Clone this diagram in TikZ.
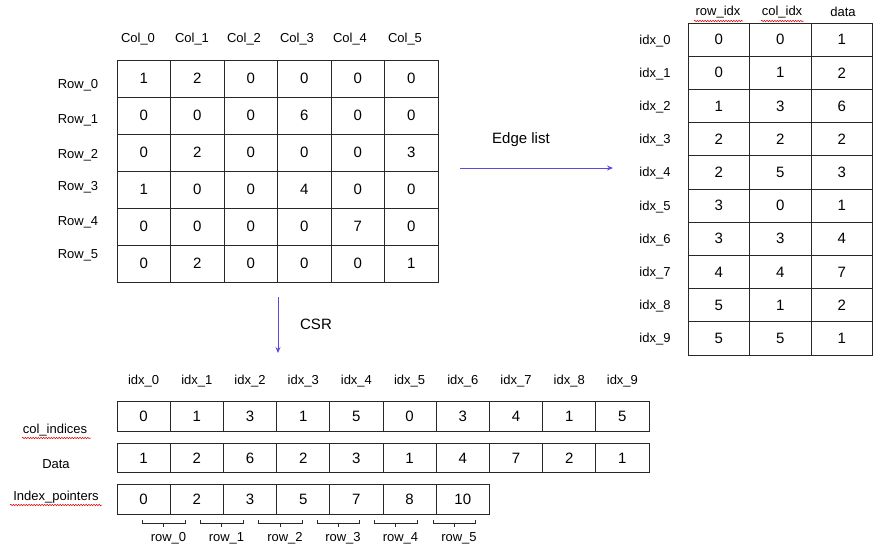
\documentclass[tikz,border=0pt]{standalone}
\usepackage{fontspec}
\setmainfont{Liberation Sans}
\usetikzlibrary{arrows.meta,decorations.pathmorphing}
\definecolor{arrowc}{RGB}{98,68,226}
\definecolor{gridc}{RGB}{40,40,40}
\begin{document}
\begin{tikzpicture}[x=1pt,y=-1pt,
  cellbase/.style={draw=gridc,line width=1pt,inner sep=0pt,font=\fontsize{15}{15}\selectfont},
  mcell/.style={cellbase,minimum width=53.5pt,minimum height=37pt},
  ecell/.style={cellbase,minimum width=61.5pt,minimum height=33.2pt},
  acell/.style={cellbase,minimum width=53.2pt,minimum height=29.5pt},
  lab/.style={font=\fontsize{13}{13}\selectfont,inner sep=0pt},
  biglab/.style={font=\fontsize{15}{15}\selectfont,inner sep=0pt},
  conn/.style={draw=arrowc,line width=0.9pt,-{Stealth[length=6pt,width=5pt]}},
  squiggle/.style={draw=red!85!black,line width=0.5pt,decorate,decoration={snake,amplitude=0.7pt,segment length=2.6pt}},
  bracketline/.style={draw=gridc,line width=0.9pt}]
\useasboundingbox (0,0) rectangle (873,549);

% ---------- dense matrix ----------
\foreach \lx/\txt [count=\c from 0] in {138/Col\_0,192/Col\_1,244/Col\_2,297/Col\_3,350/Col\_4,405/Col\_5}
  \node[lab] (ch\c) at (\lx,39) {\txt};
\foreach \ly [count=\r from 0] in {85,120,155,187,222,255}
  \node[lab] (rh\r) at (78,\ly) {Row\_\r};
\foreach \rowvals [count=\r from 0] in {{1,2,0,0,0,0},{0,0,0,6,0,0},{0,2,0,0,0,3},{1,0,0,4,0,0},{0,0,0,0,7,0},{0,2,0,0,0,1}}
  \foreach \v [count=\c from 0] in \rowvals
    \node[mcell] (m-\r-\c) at ({117+53.5*(\c+0.5)},{60+37*(\r+0.5)}) {\v};

% ---------- edge list ----------
\node[lab] (eh0) at (718,12) {row\_idx};
\node[lab] (eh1) at (782,12) {col\_idx};
\node[lab] (eh2) at (843,12) {data};
\draw[squiggle] (694,21) -- (743,21);
\draw[squiggle] (761,21) -- (804,21);
\foreach \a/\b/\d [count=\r from 0] in {0/0/1,0/1/2,1/3/6,2/2/2,2/5/3,3/0/1,3/3/4,4/4/7,5/1/2,5/5/1}{
  \node[lab] (ei\r) at (655,{23+33.2*(\r+0.5)+1}) {idx\_\r};
  \node[ecell] (e-\r-0) at ({688+61.5*0.5},{23+33.2*(\r+0.5)}) {\a};
  \node[ecell] (e-\r-1) at ({688+61.5*1.5},{23+33.2*(\r+0.5)}) {\b};
  \node[ecell] (e-\r-2) at ({688+61.5*2.5},{23+33.2*(\r+0.5)}) {\d};
}

% ---------- arrows ----------
\coordinate (elS) at (460,168);
\coordinate (elE) at (613,168);
\draw[conn] (elS) -- (elE);
\node[biglab] (ellab) at (521,140) {Edge list};
\coordinate (csS) at (278,297);
\coordinate (csE) at (278,353);
\draw[conn] (csS) -- (csE);
\node[biglab] (cslab) at (316,324) {CSR};

% ---------- CSR arrays ----------
\foreach \i in {0,...,9}
  \node[lab] (ai\i) at ({117+53.2*(\i+0.5)},381) {idx\_\i};
\node[lab] (lcol) at (55,430) {col\_indices};
\node[lab] (ldat) at (56,464) {Data};
\node[lab] (lptr) at (56,497) {Index\_pointers};
\draw[squiggle] (22,438) -- (91,438);
\draw[squiggle] (10,505) -- (102,505);
\foreach \v [count=\i from 0] in {0,1,3,1,5,0,3,4,1,5}
  \node[acell] (c-\i) at ({117+53.2*(\i+0.5)},416.5) {\v};
\foreach \v [count=\i from 0] in {1,2,6,2,3,1,4,7,2,1}
  \node[acell] (d-\i) at ({117+53.2*(\i+0.5)},458) {\v};
\foreach \v [count=\i from 0] in {0,2,3,5,7,8,10}
  \node[acell] (p-\i) at ({117+53.2*(\i+0.5)},499.5) {\v};

% ---------- row brackets ----------
\foreach \xa/\xb [count=\k from 0] in {142/185,200/243,258/302,317/359,374/417,433/475}{
  \draw[bracketline] (\xa,520) -- (\xa,523.5) -- (\xb,523.5) -- (\xb,520);
  \draw[bracketline] ({(\xa+\xb)/2},523.5) -- ({(\xa+\xb)/2},527);
  \node[lab] (rl\k) at ({(\xa+\xb)/2+5},538) {row\_\k};
}
\end{tikzpicture}
\end{document}
